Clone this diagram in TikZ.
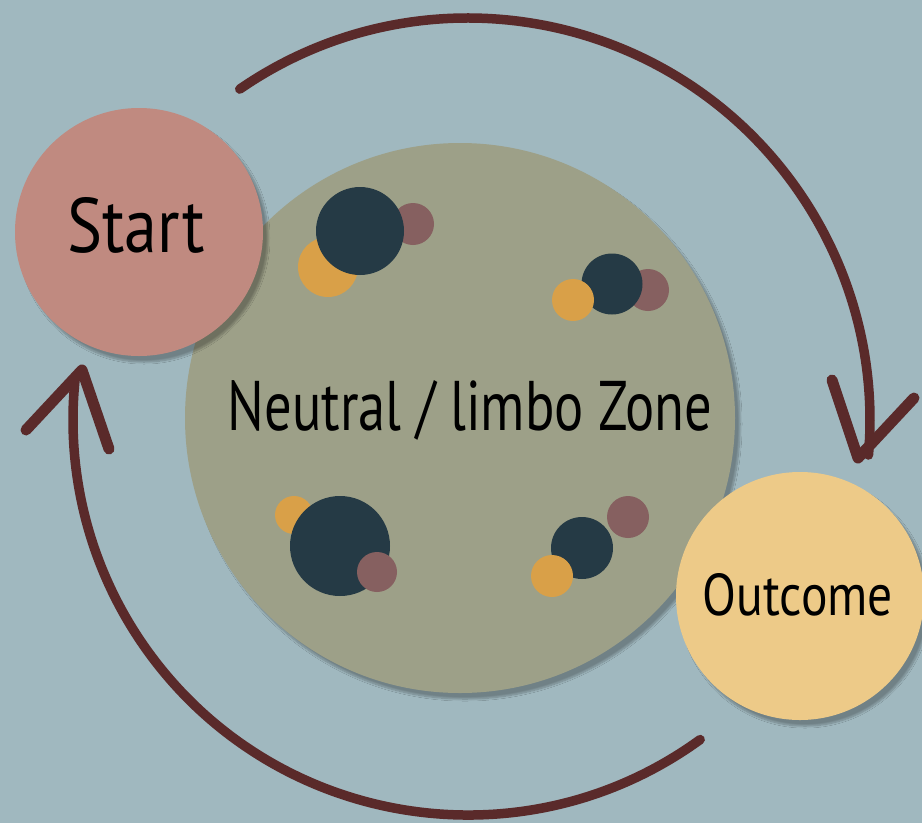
\documentclass[tikz,border=0pt]{standalone}
\usepackage{fontspec}
\setmainfont{PT Sans}
\usetikzlibrary{shadows.blur}
\definecolor{bg}{HTML}{A0B8BF}
\definecolor{zone}{HTML}{9DA088}
\definecolor{startc}{HTML}{C08A80}
\definecolor{outc}{HTML}{EDCA88}
\definecolor{dark}{HTML}{253A45}
\definecolor{mauve}{HTML}{866060}
\definecolor{orng}{HTML}{D9A048}
\definecolor{arr}{HTML}{5A2A2A}
\begin{document}
\begin{tikzpicture}[x=1pt,y=-1pt,
  bigc/.style={circle, inner sep=0pt, minimum size=#1, blur shadow={shadow xshift=5pt, shadow yshift=-6pt, shadow blur steps=10, shadow opacity=30}},
  dot/.style={circle, inner sep=0pt, minimum size=#1},
  arrline/.style={draw=arr, line width=11pt, line cap=round, line join=round},
  arcline/.style={draw=arr, line width=9.5pt, line cap=round},
  lbl/.style={inner sep=0pt, anchor=base}]
\fill[bg] (0,0) rectangle (922,823);
\useasboundingbox (0,0) rectangle (922,823);
% main circles
\node[bigc=550pt, fill=zone] (zone) at (460,418) {};
\node[bigc=248pt, fill=startc] (start) at (139,232) {};
\node[bigc=248pt, fill=outc] (out) at (800,596) {};
% cluster 1
\node[dot=60pt, fill=orng] (o1) at (328,267) {};
\node[dot=42pt, fill=mauve] (m1) at (413,224) {};
\node[dot=88pt, fill=dark] (d1) at (360,231) {};
% cluster 2
\node[dot=42pt, fill=mauve] (m2) at (648,290) {};
\node[dot=61pt, fill=dark] (d2) at (612,284) {};
\node[dot=42pt, fill=orng] (o2) at (573,300) {};
% cluster 3
\node[dot=38pt, fill=orng] (o3) at (294,515) {};
\node[dot=100pt, fill=dark] (d3) at (340,546) {};
\node[dot=40pt, fill=mauve] (m3) at (377,572) {};
% cluster 4
\node[dot=42pt, fill=mauve] (m4) at (628,517) {};
\node[dot=62pt, fill=dark] (d4) at (582,548) {};
\node[dot=42pt, fill=orng] (o4) at (552,576) {};
% labels
\node[lbl] (tstart) at (136,252) {\resizebox{137pt}{55pt}{Start}};
\node[lbl] (tzone) at (470,430) {\resizebox{484pt}{50pt}{Neutral / limbo Zone}};
\node[lbl] (tout) at (798,615) {\resizebox{190pt}{42pt}{Outcome}};
% arrows
\coordinate (ctr) at (468,420);
\draw[arcline] (ctr) ++(-124.6:402) arc[start angle=-124.6, end angle=5, radius=402] coordinate (e1);
\coordinate (t1) at (858,458);
\coordinate (a1) at (832,380);
\coordinate (b1) at (914,398);
\draw[arrline] (a1) -- (t1) -- (b1);
\draw[arcline] (ctr) ++(54:395) arc[start angle=54, end angle=186, radius=395] coordinate (e2);
\coordinate (t2) at (82,370);
\coordinate (a2) at (26,430);
\coordinate (b2) at (109,449);
\draw[arrline] (a2) -- (t2) -- (b2);
\end{tikzpicture}
\end{document}
